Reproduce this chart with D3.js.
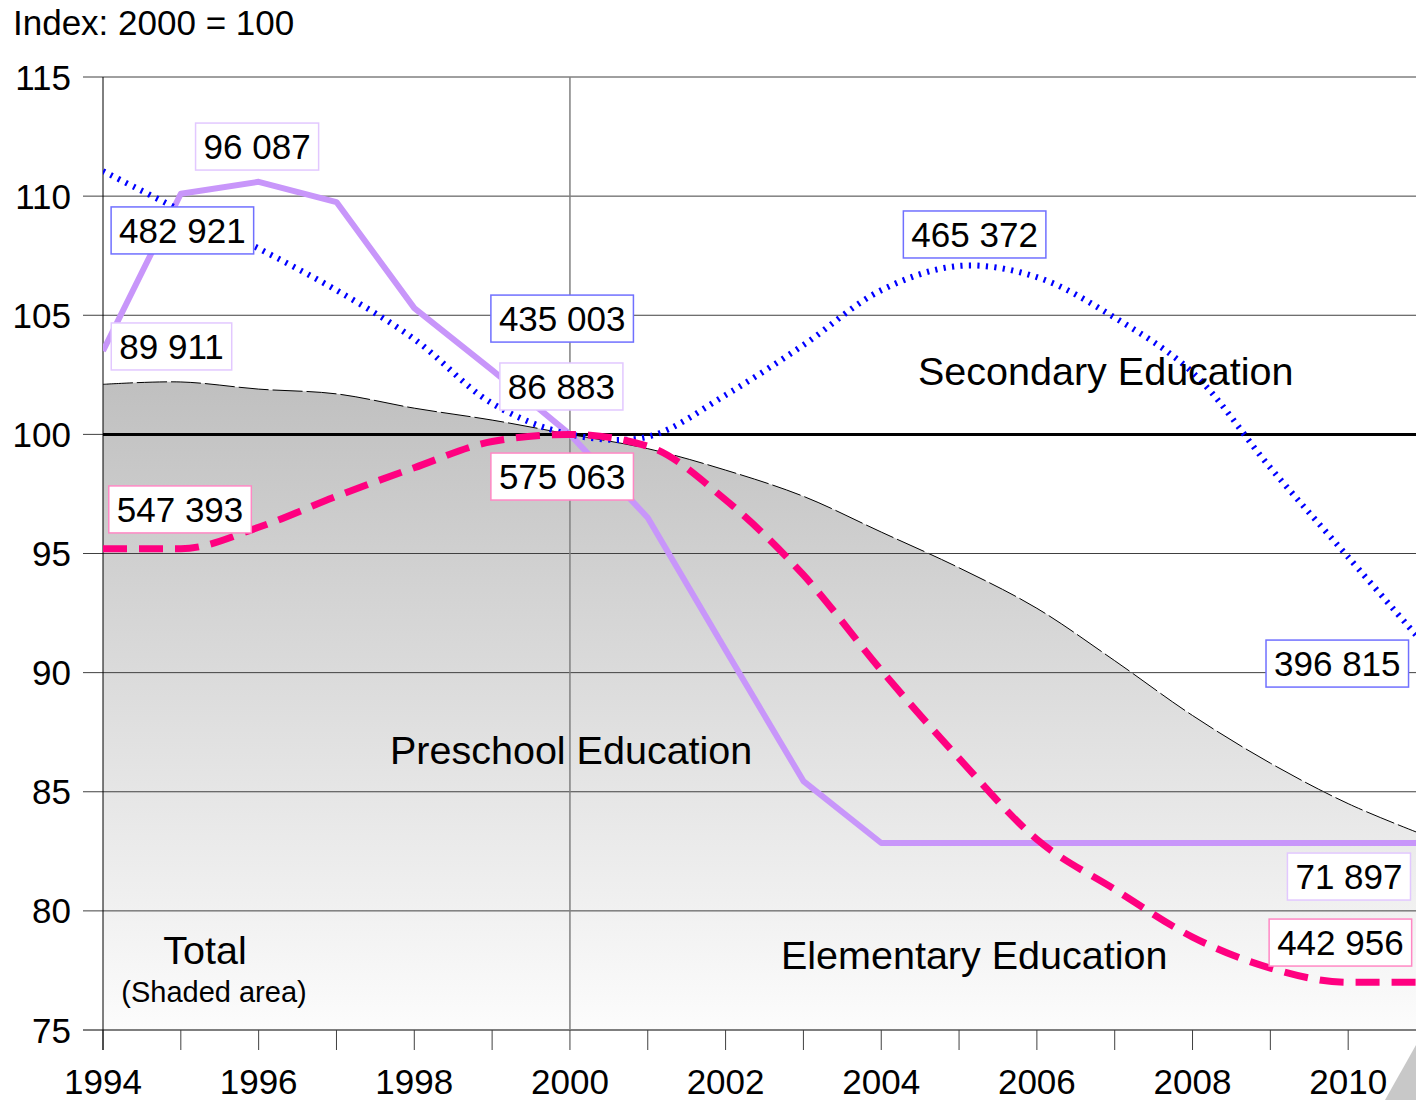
<!DOCTYPE html>
<html>
<head>
<meta charset="utf-8">
<script src="https://cdn.jsdelivr.net/npm/d3@7"></script>
<style>
  body { margin: 0; background: #fff; }
  text { font-family: "Liberation Sans", Arial, sans-serif; fill: #000; }
</style>
</head>
<body>
<div id="chart"></div>
<script>
const years = d3.range(1994, 2012);
const preschool  = [103.5, 110.1, 110.6, 109.75, 105.3, 102.7, 100, 96.5, 90.95, 85.45, 82.85, 82.85, 82.85, 82.85, 82.85, 82.85, 82.85, 82.85];
const elementary = [95.2, 95.2, 96.1, 97.4, 98.6, 99.7, 100, 99.5, 97.25, 94.1, 90.1, 86.4, 83.0, 80.9, 78.9, 77.6, 77.0, 77.0];
const secondary  = [111.05, 109.4, 107.8, 106.05, 104.0, 101.3, 100, 99.9, 101.65, 103.75, 106.05, 107.07, 106.6, 104.9, 102.6, 98.6, 94.85, 91.1];
const total      = [102.1, 102.2, 101.9, 101.7, 101.1, 100.6, 100, 99.4, 98.5, 97.4, 95.9, 94.4, 92.7, 90.5, 88.2, 86.2, 84.5, 83.15];
const yTicks = [75, 80, 85, 90, 95, 100, 105, 110, 115];
const xLabelYears = [1994, 1996, 1998, 2000, 2002, 2004, 2006, 2008, 2010];

// value labels: series, text
const labelTexts = ["96 087", "89 911", "482 921", "465 372", "435 003", "86 883", "575 063", "547 393", "396 815", "71 897", "442 956"];
const labelSeries = ["pre", "pre", "sec", "sec", "sec", "pre", "ele", "ele", "sec", "pre", "ele"];

const width = 1416, height = 1100;
const svg = d3.select("#chart").append("svg")
    .attr("width", width)
    .attr("height", height);

const x = d3.scaleLinear().domain([1994, 2011]).range([103, 1426]);
const y = d3.scaleLinear().domain([75, 115]).range([1030, 77]);

const colors = {pre: "#c896fa", ele: "#ff0080", sec: "#0000ff"};
const borders = {pre: "#e2c8ff", ele: "#ff88c4", sec: "#7070ff"};

svg.append("clipPath").attr("id", "plotclip")
    .append("rect").attr("x", 103).attr("y", 60).attr("width", width - 103).attr("height", 980);

const grad = svg.append("defs").append("linearGradient")
    .attr("id", "shade").attr("gradientUnits", "userSpaceOnUse")
    .attr("x1", 0).attr("x2", 0).attr("y1", y(102)).attr("y2", y(75));
grad.append("stop").attr("offset", "0%").attr("stop-color", "#c0c0c0");
grad.append("stop").attr("offset", "100%").attr("stop-color", "#fcfcfc");

const plot = svg.append("g").attr("clip-path", "url(#plotclip)");

const totalData = years.map((d, i) => ({year: d, v: total[i]}));

plot.append("path")
    .datum(totalData)
    .attr("fill", "url(#shade)")
    .attr("d", d3.area().x(d => x(d.year)).y0(y(75)).y1(d => y(d.v)).curve(d3.curveCatmullRom));

plot.append("path")
    .datum(totalData)
    .attr("fill", "none")
    .attr("stroke", "#000")
    .attr("stroke-width", 1)
    .attr("stroke-dasharray", "30,4")
    .attr("d", d3.line().x(d => x(d.year)).y(d => y(d.v)).curve(d3.curveCatmullRom));

// horizontal gridlines + ticks
svg.append("g").selectAll("line")
    .data(yTicks)
    .join("line")
    .attr("x1", 83).attr("x2", width)
    .attr("y1", d => y(d)).attr("y2", d => y(d))
    .attr("stroke", d => d === 75 ? "#000" : "#404040")
    .attr("stroke-width", 1);

// year ticks
svg.append("g").selectAll("line")
    .data(years)
    .join("line")
    .attr("x1", d => x(d)).attr("x2", d => x(d))
    .attr("y1", y(75)).attr("y2", y(75) + 20)
    .attr("stroke", "#404040");

// vertical axis line
svg.append("line")
    .attr("x1", x(1994)).attr("x2", x(1994))
    .attr("y1", y(115)).attr("y2", y(75) + 20)
    .attr("stroke", "#000");

// 2000 reference line
svg.append("line")
    .attr("x1", x(2000)).attr("x2", x(2000))
    .attr("y1", y(115)).attr("y2", y(75))
    .attr("stroke", "#808080").attr("stroke-width", 1.5);

// 100 baseline
svg.append("line")
    .attr("x1", x(1994)).attr("x2", width)
    .attr("y1", y(100)).attr("y2", y(100))
    .attr("stroke", "#000").attr("stroke-width", 3);

const lines = svg.append("g").attr("clip-path", "url(#plotclip)");

lines.append("path")
    .datum(preschool)
    .attr("fill", "none")
    .attr("stroke", colors.pre)
    .attr("stroke-width", 6)
    .attr("stroke-linejoin", "round")
    .attr("d", d3.line().x((d, i) => x(years[i])).y(d => y(d)));

lines.append("path")
    .datum(secondary)
    .attr("fill", "none")
    .attr("stroke", colors.sec)
    .attr("stroke-width", 6)
    .attr("stroke-dasharray", "2.2,6.3")
    .attr("d", d3.line().x((d, i) => x(years[i])).y(d => y(d)).curve(d3.curveCatmullRom));

lines.append("path")
    .datum(elementary)
    .attr("fill", "none")
    .attr("stroke", colors.ele)
    .attr("stroke-width", 7)
    .attr("stroke-dasharray", "24,12")
    .attr("d", d3.line().x((d, i) => x(years[i])).y(d => y(d)).curve(d3.curveMonotoneX));

// axis labels
svg.append("g").selectAll("text")
    .data(yTicks)
    .join("text")
    .attr("x", 71)
    .attr("y", d => y(d))
    .attr("dy", "0.36em")
    .attr("text-anchor", "end")
    .style("font-size", "35px")
    .text(d => d);

svg.append("g").selectAll("text")
    .data(xLabelYears)
    .join("text")
    .attr("x", d => x(d))
    .attr("y", 1094)
    .attr("text-anchor", "middle")
    .style("font-size", "35px")
    .text(d => d);

svg.append("text")
    .attr("x", 13).attr("y", 35)
    .style("font-size", "35px")
    .text("Index: 2000 = 100");

// series names
svg.append("text").attr("x", 918).attr("y", 385).style("font-size", "39.5px").text("Secondary Education");
svg.append("text").attr("x", 390).attr("y", 764).style("font-size", "39.5px").text("Preschool Education");
svg.append("text").attr("x", 781).attr("y", 969).style("font-size", "39.5px").text("Elementary Education");
svg.append("text").attr("x", 205).attr("y", 964).attr("text-anchor", "middle").style("font-size", "39.5px").text("Total");
svg.append("text").attr("x", 214).attr("y", 1002).attr("text-anchor", "middle").style("font-size", "29px").text("(Shaded area)");

// value labels, centred at these chart positions
const labelPos = [
    [1995.98, 112.08], [1994.88, 103.69], [1995.02, 108.56], [2005.2, 108.39],
    [1999.9, 104.86], [1999.89, 102.01], [1999.9, 98.23], [1994.99, 96.85],
    [2009.86, 90.38], [2010.01, 81.44], [2009.9, 78.67]
];

const lab = svg.append("g").selectAll("g")
    .data(labelTexts)
    .join("g")
    .attr("transform", (d, i) => `translate(${x(labelPos[i][0])},${y(labelPos[i][1])})`);

lab.append("rect");
lab.append("text")
    .attr("text-anchor", "middle")
    .attr("dy", "0.36em")
    .style("font-size", "35px")
    .text(d => d);

lab.each(function (d, i) {
    const g = d3.select(this);
    const w = g.select("text").node().getComputedTextLength() + 16;
    g.select("rect")
        .attr("x", -w / 2).attr("y", -23.5)
        .attr("width", w).attr("height", 47)
        .attr("fill", "#fff")
        .attr("stroke", borders[labelSeries[i]])
        .attr("stroke-width", 1.5);
});

// corner piece of the next page object
svg.append("polygon")
    .attr("points", "1385,1100 1416,1045 1416,1100")
    .attr("fill", "#c8c8c8");
</script>
</body>
</html>
